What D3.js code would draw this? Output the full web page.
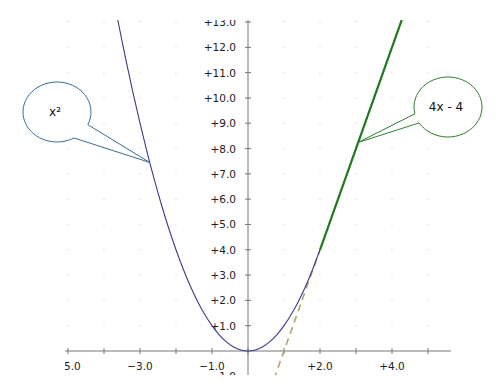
<!DOCTYPE html>
<html>
  <head>
    <meta http-equiv="Content-Type" content="text/html; charset=UTF-8">
    <style type="text/css">
      body { margin: 0; background: #fff; }
      text { font-family: 'DejaVu Sans', sans-serif; }
    </style>
  </head>
  <body>
    <div id="canvas"></div>
    <script type="text/javascript" src="https://d3js.org/d3.v7.min.js"></script>
    <script type="text/javascript">
      // values
      var parabX = [-3.7, -3.6, -3.4, -3.2, -3.0, -2.8, -2.6, -2.4, -2.2, -2.0, -1.8, -1.6, -1.4, -1.2, -1.0,
                    -0.8, -0.6, -0.4, -0.2, 0, 0.2, 0.4, 0.6, 0.8, 1.0, 1.2, 1.4, 1.6, 1.8, 2.0];
      var parabY = [13.69, 12.96, 11.56, 10.24, 9.0, 7.84, 6.76, 5.76, 4.84, 4.0, 3.24, 2.56, 1.96, 1.44, 1.0,
                    0.64, 0.36, 0.16, 0.04, 0, 0.04, 0.16, 0.36, 0.64, 1.0, 1.44, 1.96, 2.56, 3.24, 4.0];
      var dashX = [0.5, 2.0];
      var dashY = [-2.0, 4.0];
      var lineX = [2.0, 4.5];
      var lineY = [4.0, 14.0];
      var xTicks = [-5, -4, -3, -2, -1, 0, 1, 2, 3, 4, 5, 6];
      var xLabels = [-5, -3, -1, 2, 4, 6];
      var yTicks = [-1, 1, 2, 3, 4, 5, 6, 7, 8, 9, 10, 11, 12, 13];
      var callouts = [
        {text: 'x\u00b2', cx: 57, cy: 112, tipX: -2.73, tipY: 7.45, a1: 25, a2: 60, color: '#3a6c96'},
        {text: '4x - 4', cx: 448, cy: 107, tipX: 3.06, tipY: 8.24, a1: 148, a2: 167, color: '#2e7d32'}
      ];

      var width = 496, height = 388;
      var x = d3.scaleLinear().domain([-5, 6]).range([68, 464]);
      var y = d3.scaleLinear().domain([0, 13]).range([351, 22]);

      var svg = d3.select('#canvas').append('svg')
        .attr('width', width).attr('height', height);

      svg.append('clipPath').attr('id', 'clip')
        .append('rect').attr('x', 65).attr('y', 20).attr('width', 386).attr('height', 355);

      var g = svg.append('g').attr('clip-path', 'url(#clip)');

      // faint grid dots
      var gridPts = [];
      xTicks.forEach(function (a) { yTicks.forEach(function (b) { gridPts.push([a, b]); }); });
      g.selectAll('circle.grid').data(gridPts).enter().append('circle')
        .attr('class', 'grid')
        .attr('cx', function (d) { return x(d[0]); })
        .attr('cy', function (d) { return y(d[1]); })
        .attr('r', 0.9).attr('fill', '#e6e6e6');

      // axes
      g.append('line').attr('x1', 65).attr('x2', 451).attr('y1', y(0)).attr('y2', y(0))
        .attr('stroke', '#777').attr('stroke-width', 1);
      g.append('line').attr('x1', x(0)).attr('x2', x(0)).attr('y1', 20).attr('y2', 377)
        .attr('stroke', '#777').attr('stroke-width', 1);

      g.selectAll('line.xt').data(xTicks).enter().append('line')
        .attr('x1', function (d) { return x(d); }).attr('x2', function (d) { return x(d); })
        .attr('y1', y(0) - 3).attr('y2', y(0) + 3).attr('stroke', '#777');
      g.selectAll('line.yt').data(yTicks).enter().append('line')
        .attr('x1', x(0) - 3).attr('x2', x(0) + 3)
        .attr('y1', function (d) { return y(d); }).attr('y2', function (d) { return y(d); })
        .attr('stroke', '#777');

      var fmt = d3.format('+.1f');
      g.selectAll('text.xl').data(xLabels).enter().append('text')
        .attr('x', function (d) { return x(d); }).attr('y', y(0) + 19)
        .attr('text-anchor', 'middle').attr('font-size', '10.5px').attr('fill', '#222')
        .text(function (d) { return fmt(d); });
      g.selectAll('text.yl').data(yTicks).enter().append('text')
        .attr('x', x(0) - 12).attr('y', function (d) { return y(d) + 4; })
        .attr('text-anchor', 'end').attr('font-size', '10.5px').attr('fill', '#222')
        .text(function (d) { return fmt(d); });

      // curves
      var toPts = function (xs, ys) { return xs.map(function (v, i) { return [v, ys[i]]; }); };
      var line = d3.line().x(function (d) { return x(d[0]); }).y(function (d) { return y(d[1]); });

      g.append('path').attr('d', line(toPts(dashX, dashY)))
        .attr('fill', 'none').attr('stroke', '#b3a46f').attr('stroke-width', 1.6)
        .attr('stroke-dasharray', '7,5');
      g.append('path').attr('d', line.curve(d3.curveCatmullRom)(toPts(parabX, parabY)))
        .attr('fill', 'none').attr('stroke', '#3b3b8f').attr('stroke-width', 1.1);
      line.curve(d3.curveLinear);
      g.append('path').attr('d', line(toPts(lineX, lineY)))
        .attr('fill', 'none').attr('stroke', '#1f7a1f').attr('stroke-width', 2.2);

      // speech bubbles
      var rx = 34, ry = 30;
      callouts.forEach(function (c) {
        var tx = x(c.tipX), ty = y(c.tipY);
        var r1 = c.a1 * Math.PI / 180, r2 = c.a2 * Math.PI / 180;
        var p1 = [c.cx + rx * Math.cos(r1), c.cy + ry * Math.sin(r1)];
        var p2 = [c.cx + rx * Math.cos(r2), c.cy + ry * Math.sin(r2)];
        var d = 'M' + p2[0] + ',' + p2[1] +
          ' A' + rx + ',' + ry + ' 0 1,1 ' + p1[0] + ',' + p1[1] +
          ' L' + tx + ',' + ty + ' Z';
        svg.append('path').attr('d', d)
          .attr('fill', '#fff').attr('stroke', c.color).attr('stroke-width', 1);
        svg.append('text').attr('x', c.cx - 2).attr('y', c.cy + 4)
          .attr('text-anchor', 'middle').attr('font-size', '12px').attr('fill', '#111')
          .text(c.text);
      });
    </script>
  </body>
</html>
